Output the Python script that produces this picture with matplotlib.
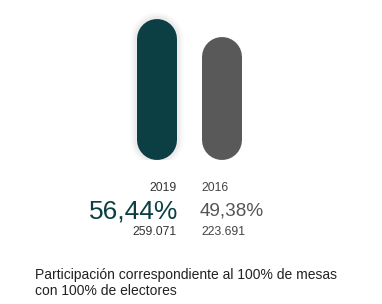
import matplotlib
matplotlib.use("Agg")
import matplotlib.pyplot as plt

# datos
years = ["2019", "2016"]
participation = [56.44, 49.38]
labels_pct = ["56,44%", "49,38%"]
labels_votes = ["259.071", "223.691"]
colors = ["#0b3f44", "#595959"]
footer = "Participación correspondiente al 100% de mesas\ncon 100% de electores"

plt.rcParams["font.family"] = ["Liberation Sans", "DejaVu Sans"]

W, H = 382, 304
fig = plt.figure(figsize=(W / 100, H / 100), dpi=100)
fig.patch.set_facecolor("white")

# ejes: y=0 en pixel 160 desde arriba, 2.5 px por punto
ax = fig.add_axes([0, (H - 160) / H, 1, 150 / H])
ax.set_xlim(0, W)
ax.set_ylim(0, 60)
ax.axis("off")

centers = [157, 221.5]
bar_px = 40
radius = (bar_px / 2) / 2.5  # en unidades del eje y

for i, v in enumerate(participation):
    # sombra suave para la barra principal
    if i == 0:
        for k, a in [(14, 0.015), (10, 0.025), (6, 0.035)]:
            ax.plot([centers[i], centers[i]], [radius, v - radius],
                    color="#000000", alpha=a, linewidth=(bar_px + k) * 0.72,
                    solid_capstyle="round", zorder=1)
    ax.plot([centers[i], centers[i]], [radius, v - radius],
            color=colors[i], linewidth=bar_px * 0.72,
            solid_capstyle="round", zorder=2)


def px(x, y):
    return x / W, 1 - y / H


# textos bajo las barras
fig.text(*px(177, 188), years[0], ha="right", va="center", fontsize=8.8, color="#333333")
fig.text(*px(201, 188), years[1], ha="left", va="center", fontsize=8.8, color="#444444")
fig.text(*px(178, 211), labels_pct[0], ha="right", va="center", fontsize=19, color=colors[0])
fig.text(*px(200, 211), labels_pct[1], ha="left", va="center", fontsize=13.6, color="#555555")
fig.text(*px(177, 232), labels_votes[0], ha="right", va="center", fontsize=8.8, color="#333333")
fig.text(*px(201, 232), labels_votes[1], ha="left", va="center", fontsize=8.8, color="#444444")

fig.text(*px(35, 283), footer, ha="left", va="center", fontsize=10,
         color="#222222", linespacing=1.2)

fig.savefig("out.png", dpi=100, facecolor="white")
